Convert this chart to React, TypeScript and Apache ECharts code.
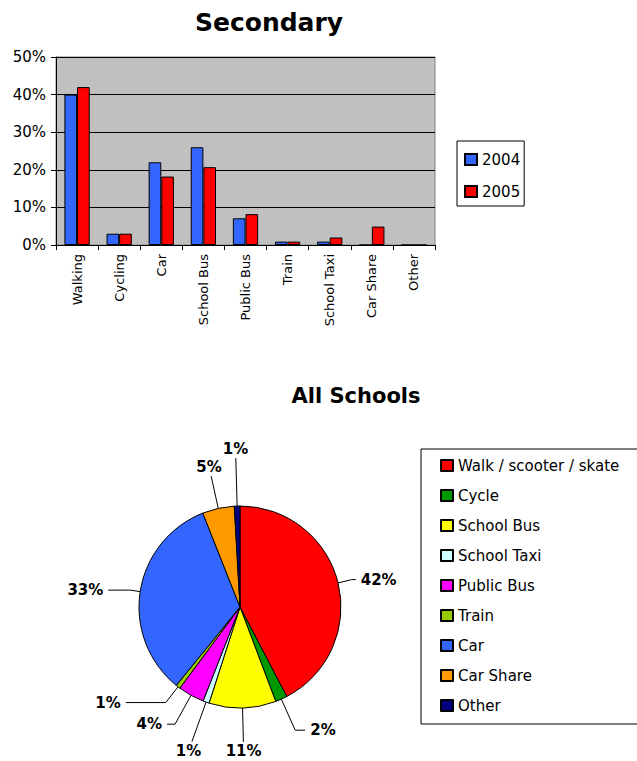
import React, { useEffect, useRef } from "react";
import * as echarts from "echarts";

const barCategories = ["Walking", "Cycling", "Car", "School Bus", "Public Bus", "Train", "School Taxi", "Car Share", "Other"];
const values2004 = [40, 3, 22, 26, 7.1, 0.9, 0.9, 0, 0];
const values2005 = [42, 3, 18.2, 20.7, 8.2, 0.9, 2, 4.9, 0];
const yTicks = [0, 10, 20, 30, 40, 50];

const pieNames = ["Walk / scooter / skate", "Cycle", "School Bus", "School Taxi", "Public Bus", "Train", "Car", "Car Share", "Other"];
const pieValues = [42.3, 1.9, 10.7, 1.0, 4.2, 0.7, 33.1, 5.1, 0.9];
const pieColors = ["#ff0000", "#009900", "#ffff00", "#ccffff", "#ff00ff", "#99cc00", "#3366ff", "#ff9900", "#000080"];

// leader line style per slice: [radial length, horizontal length]; horizontal 0 = label sits beyond the radial end
const leaderStyle = [
  [14, 4],
  [34, 10],
  [34, 0],
  [42, 0],
  [33, 8],
  [20, 40],
  [10, 22],
  [33, 0],
  [48, 0],
];

const FONT = "DejaVu Sans";

export default function App() {
  const ref = useRef<HTMLDivElement>(null);
  useEffect(() => {
    if (!ref.current) return;
    const chart = echarts.init(ref.current, null, { renderer: "svg" });
    chart.setOption({
      animation: false,
      textStyle: { fontFamily: FONT, color: "#000" },
      title: [
        { text: "Secondary", left: 264, top: 5, textAlign: "center", textStyle: { fontSize: 25, fontWeight: "bold", fontFamily: FONT, color: "#000" } },
        { text: "All Schools", left: 351, top: 380, textAlign: "center", textStyle: { fontSize: 21, fontWeight: "bold", fontFamily: FONT, color: "#000" } },
      ],
      legend: [
        {
          data: ["2004", "2005"],
          orient: "vertical",
          left: 457,
          top: 141,
          padding: [11, 4, 7, 7],
          itemGap: 17,
          itemWidth: 12,
          itemHeight: 11,
          icon: "rect",
          borderColor: "#000",
          borderWidth: 1,
          textStyle: { fontSize: 15, fontFamily: FONT, color: "#000" },
        },
        {
          data: pieNames,
          orient: "vertical",
          left: 421,
          top: 449,
          padding: [9, 20, 11, 19],
          itemGap: 15,
          itemWidth: 12,
          itemHeight: 11,
          icon: "rect",
          borderColor: "#000",
          borderWidth: 1,
          textStyle: { fontSize: 15, fontFamily: FONT, color: "#000" },
        },
      ],
      grid: {
        left: 56,
        top: 57,
        width: 379,
        height: 188,
        show: true,
        backgroundColor: "#c0c0c0",
        borderColor: "#808080",
        borderWidth: 1,
      },
      xAxis: {
        type: "category",
        data: barCategories,
        axisLine: { lineStyle: { color: "#000" } },
        axisTick: { show: true, length: 5, lineStyle: { color: "#000" } },
        axisLabel: { rotate: 90, interval: 0, fontSize: 13, margin: 9, color: "#000", fontFamily: FONT },
      },
      yAxis: {
        type: "value",
        min: yTicks[0],
        max: yTicks[yTicks.length - 1],
        interval: 10,
        axisLine: { show: true, lineStyle: { color: "#000" } },
        axisTick: { show: true, length: 5, lineStyle: { color: "#000" } },
        axisLabel: { formatter: "{value}%", fontSize: 15, margin: 10, color: "#000", fontFamily: FONT },
        splitLine: { show: true, lineStyle: { color: "#000", width: 1 } },
      },
      series: [
        {
          name: "2004",
          type: "bar",
          data: values2004,
          barGap: "0%",
          barCategoryGap: "40%",
          itemStyle: { color: "#3366ff", borderColor: "#000", borderWidth: 1 },
        },
        {
          name: "2005",
          type: "bar",
          data: values2005,
          barGap: "0%",
          barCategoryGap: "40%",
          itemStyle: { color: "#ff0000", borderColor: "#000", borderWidth: 1 },
        },
        {
          name: "All Schools",
          type: "pie",
          center: [240, 607],
          radius: 101,
          startAngle: 90,
          clockwise: true,
          avoidLabelOverlap: false,
          data: pieNames.map((n, i) => ({
            name: n,
            value: pieValues[i],
            itemStyle: { color: pieColors[i] },
            labelLine: { length: leaderStyle[i][0], length2: leaderStyle[i][1] },
          })),
          itemStyle: { borderColor: "#000", borderWidth: 1 },
          label: {
            show: true,
            position: "outside",
            formatter: (p: any) => `${Math.round(p.value)}%`,
            fontSize: 15,
            fontWeight: "bold",
            color: "#000",
            fontFamily: FONT,
          },
          labelLine: { show: true, lineStyle: { color: "#000", width: 1 } },
          labelLayout: (params: any) => {
            const i = params.dataIndex;
            const pts = params.labelLinePoints;
            if (!pts || leaderStyle[i][1] !== 0) return {};
            const p0 = pts[0];
            const p1 = pts[1];
            let dx = p1[0] - p0[0];
            let dy = p1[1] - p0[1];
            const len = Math.sqrt(dx * dx + dy * dy) || 1;
            dx /= len;
            dy /= len;
            const w = params.labelRect.width / 2;
            const h = params.labelRect.height / 2;
            const t = Math.min(Math.abs(dx) > 1e-6 ? w / Math.abs(dx) : 1e9, Math.abs(dy) > 1e-6 ? h / Math.abs(dy) : 1e9) + 2;
            return {
              x: p1[0] + dx * t,
              y: p1[1] + dy * t,
              align: "center",
              verticalAlign: "middle",
              labelLinePoints: [p0, p1, p1],
            };
          },
          emphasis: { disabled: true },
        },
      ],
    });
    return () => chart.dispose();
  }, []);
  return <div ref={ref} style={{ width: 637, height: 761, position: "absolute", left: 0, top: 0 }} />;
}
